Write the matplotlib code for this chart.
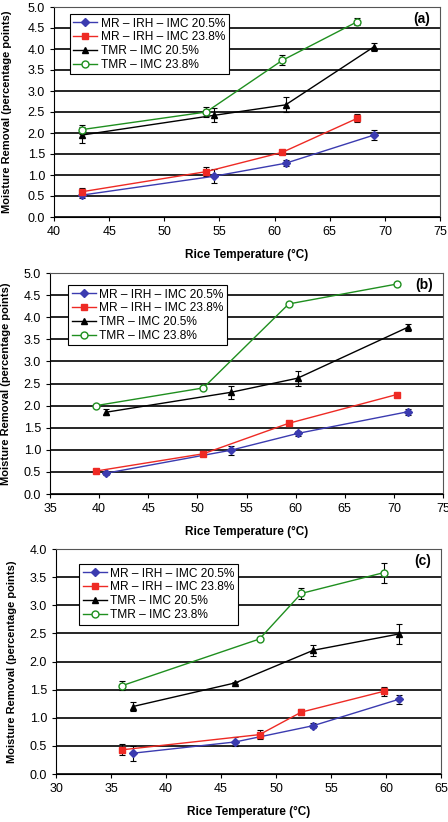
import matplotlib
matplotlib.use("Agg")
import matplotlib.pyplot as plt
from matplotlib.lines import Line2D

plt.rcParams["font.family"] = ["Liberation Sans", "DejaVu Sans"]

labels = ["MR \u2013 IRH \u2013 IMC 20.5%", "MR \u2013 IRH \u2013 IMC 23.8%",
          "TMR \u2013 IMC 20.5%", "TMR \u2013 IMC 23.8%"]

# panel (a)
a_x205 = [42.5, 54.5, 61.0, 69.0]
a_x238 = [42.5, 53.8, 60.7, 67.5]
a_mr205 = [0.52, 0.97, 1.28, 1.95]
a_mr205_err = [0.07, 0.17, 0.07, 0.11]
a_mr238 = [0.60, 1.08, 1.54, 2.35]
a_mr238_err = [0.10, 0.10, 0.05, 0.10]
a_tmr205 = [1.95, 2.42, 2.67, 4.05]
a_tmr205_err = [0.20, 0.17, 0.18, 0.10]
a_tmr238 = [2.08, 2.50, 3.73, 4.65]
a_tmr238_err = [0.10, 0.13, 0.12, 0.08]

# panel (b)
b_x205 = [40.7, 53.4, 60.2, 71.4]
b_x238 = [39.7, 50.6, 59.3, 70.3]
b_mr205 = [0.47, 0.99, 1.37, 1.86]
b_mr205_err = [0.03, 0.10, 0.06, 0.07]
b_mr238 = [0.52, 0.91, 1.60, 2.25]
b_mr238_err = [0.03, 0.03, 0.03, 0.03]
b_tmr205 = [1.85, 2.30, 2.62, 3.77]
b_tmr205_err = [0.07, 0.15, 0.17, 0.08]
b_tmr238 = [2.00, 2.40, 4.30, 4.75]
b_tmr238_err = [0.03, 0.02, 0.04, 0.04]

# panel (c)
c_x205 = [37.0, 46.3, 53.4, 61.2]
c_x238 = [36.0, 48.5, 52.3, 59.8]
c_mr205 = [0.37, 0.57, 0.86, 1.33]
c_mr205_err = [0.13, 0.08, 0.05, 0.08]
c_mr238 = [0.43, 0.70, 1.10, 1.47]
c_mr238_err = [0.10, 0.08, 0.05, 0.08]
c_tmr205 = [1.20, 1.62, 2.20, 2.49]
c_tmr205_err = [0.08, 0.02, 0.10, 0.17]
c_tmr238 = [1.57, 2.40, 3.21, 3.58]
c_tmr238_err = [0.08, 0.02, 0.10, 0.18]

W, H = 448, 822
fig = plt.figure(figsize=(W / 100, H / 100), dpi=100)

styles = [
    dict(color="#3b3bb0", marker="D", ms=4),
    dict(color="#ee2a24", marker="s", ms=5),
    dict(color="black", marker="^", ms=5),
    dict(color="#1f8f1f", marker="o", ms=5, mfc="white"),
]


def make_axes(left, right, top, bottom):
    return fig.add_axes([left / W, 1 - bottom / H, (right - left) / W, (bottom - top) / H])


def draw(ax, x205, x238, series, xlim, ylim, letter, legend_box):
    mr205, e1, mr238, e2, tmr205, e3, tmr238, e4 = series
    xs = [x205, x238, x205, x238]
    ys = [mr205, mr238, tmr205, tmr238]
    es = [e1, e2, e3, e4]
    handles = []
    for x, y, e, st, lab in zip(xs, ys, es, styles, labels):
        ax.errorbar(x, y, yerr=e, fmt="none", ecolor="black", elinewidth=0.8,
                    capsize=2.5, capthick=0.8, zorder=3)
        ax.plot(x, y, lw=1, zorder=4, **st)
        handles.append(Line2D([], [], lw=1, **st))
    ax.set_xlim(*xlim)
    ax.set_ylim(0, ylim)
    ax.set_xticks(range(xlim[0], xlim[1] + 1, 5))
    yt = [i * 0.5 for i in range(int(ylim / 0.5) + 1)]
    ax.set_yticks(yt)
    ax.set_yticklabels([f"{v:.1f}" for v in yt])
    ax.grid(axis="y", color="black", lw=1.2)
    ax.set_axisbelow(True)
    for s in ["top", "right"]:
        ax.spines[s].set_color("#555555")
        ax.spines[s].set_linewidth(0.8)
    ax.tick_params(labelsize=9, length=3)
    ax.set_xlabel("Rice Temperature (\u00b0C)", fontsize=8.5, fontweight="bold", labelpad=8)
    ax.set_ylabel("Moisture Removal (percentage points)", fontsize=8, fontweight="bold")
    ax.text(0.975, 0.945, letter, transform=ax.transAxes, ha="right", va="center",
            fontsize=10, fontweight="bold")
    leg = ax.legend(handles, labels, loc="upper left", bbox_to_anchor=legend_box,
                    fontsize=8.6, frameon=True, fancybox=False, framealpha=1,
                    edgecolor="black", handlelength=2.0, borderpad=0.3,
                    labelspacing=0.15, handletextpad=0.3, borderaxespad=0)
    leg.get_frame().set_linewidth(0.8)


ax1 = make_axes(54, 440, 7, 217)
draw(ax1, a_x205, a_x238,
     [a_mr205, a_mr205_err, a_mr238, a_mr238_err, a_tmr205, a_tmr205_err, a_tmr238, a_tmr238_err],
     (40, 75), 5.0, "(a)", (0.041, 0.967))
ax1.yaxis.set_label_coords(-0.11, 0.5)

ax2 = make_axes(50, 443, 273, 494)
draw(ax2, b_x205, b_x238,
     [b_mr205, b_mr205_err, b_mr238, b_mr238_err, b_tmr205, b_tmr205_err, b_tmr238, b_tmr238_err],
     (35, 75), 5.0, "(b)", (0.046, 0.946))
ax2.yaxis.set_label_coords(-0.1, 0.5)

ax3 = make_axes(56, 441, 549, 774)
draw(ax3, c_x205, c_x238,
     [c_mr205, c_mr205_err, c_mr238, c_mr238_err, c_tmr205, c_tmr205_err, c_tmr238, c_tmr238_err],
     (30, 65), 4.0, "(c)", (0.06, 0.933))
ax3.yaxis.set_label_coords(-0.1, 0.5)

fig.savefig("out.png", dpi=100)
